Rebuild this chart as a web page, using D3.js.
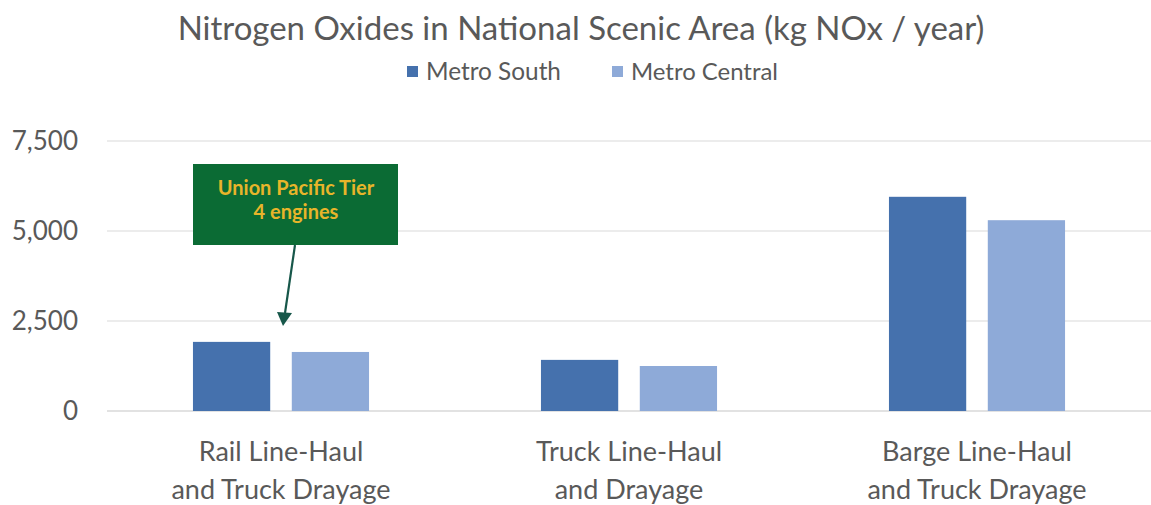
<!DOCTYPE html>
<html>
<head>
<meta charset="utf-8">
<script src="https://cdn.jsdelivr.net/npm/d3@7"></script>
<style>
  body { margin: 0; background: #fff; }
  svg { display: block; font-family: Lato, "Liberation Sans", sans-serif; }
</style>
</head>
<body>
<svg id="chart"></svg>
<script>
// data
var categories = [["Rail Line-Haul", "and Truck Drayage"], ["Truck Line-Haul", "and Drayage"], ["Barge Line-Haul", "and Truck Drayage"]];
var seriesNames = ["Metro South", "Metro Central"];
var metroSouth = [1920, 1420, 5950];
var metroCentral = [1640, 1250, 5300];
var yTicks = [0, 2500, 5000, 7500];
var noteLines = ["Union Pacific Tier", "4 engines"];

var width = 1151, height = 505,
	margin = {top: 141, right: 0, bottom: 94, left: 107},
	colors = ["#4571ad", "#8eaad8"],
	textColor = "#595959";

var svg = d3.select("#chart").attr("width", width).attr("height", height);

var x = d3.scaleBand().domain(d3.range(categories.length)).range([margin.left, width - margin.right]);
var y = d3.scaleLinear().domain([0, 7500]).range([height - margin.bottom, margin.top]);
var barW = x.bandwidth() * 0.222,
	offset = x.bandwidth() * 0.142;

// scale font so the text is as wide as in the picture
function fitText(sel, target) {
	var w = sel.node().getComputedTextLength();
	var fs = parseFloat(sel.attr("font-size"));
	sel.attr("font-size", fs * target / w);
}

// gridlines
svg.append("g").selectAll("line").data(yTicks).enter().append("line")
	.attr("x1", margin.left).attr("x2", width)
	.attr("y1", function(d) { return y(d); }).attr("y2", function(d) { return y(d); })
	.attr("stroke", function(d) { return d === 0 ? "#d9d9d9" : "#e6e6e6"; })
	.attr("stroke-width", 1.3);

// y labels
var yAxis = d3.axisLeft(y).tickValues(yTicks).tickFormat(d3.format(",")).tickSize(0).tickPadding(0);
var ya = svg.append("g").attr("transform", "translate(78,0)").call(yAxis);
ya.select(".domain").remove();
ya.selectAll("text").attr("font-size", 26).attr("fill", textColor).attr("font-family", "Lato, sans-serif");

// bars
var data = [metroSouth, metroCentral];
data.forEach(function(vals, s) {
	svg.append("g").selectAll("rect").data(vals).enter().append("rect")
		.attr("x", function(d, i) { return x(i) + x.bandwidth() / 2 + (s === 0 ? -offset : offset) - barW / 2; })
		.attr("width", barW)
		.attr("y", function(d) { return y(d); })
		.attr("height", function(d) { return y(0) - y(d); })
		.attr("fill", colors[s]);
});

// x labels
var xl = svg.append("g").selectAll("text").data(categories).enter().append("text")
	.attr("x", function(d, i) { return x(i) + x.bandwidth() / 2; })
	.attr("text-anchor", "middle").attr("fill", textColor).attr("font-size", 27);
xl.append("tspan").attr("x", function(d, i) { return x(i) + x.bandwidth() / 2; }).attr("y", 461).text(function(d) { return d[0]; });
xl.append("tspan").attr("x", function(d, i) { return x(i) + x.bandwidth() / 2; }).attr("y", 499).text(function(d) { return d[1]; });

// title
var title = svg.append("text").attr("x", 581).attr("y", 40).attr("text-anchor", "middle")
	.attr("font-size", 27).attr("fill", textColor)
	.text("Nitrogen Oxides in National Scenic Area (kg NOx / year)");
fitText(title, 807);

// legend
var legend = svg.append("g");
var lx = [407, 612];
seriesNames.forEach(function(n, i) {
	legend.append("rect").attr("x", lx[i]).attr("y", 66).attr("width", 11).attr("height", 11).attr("fill", colors[i]);
	var t = legend.append("text").attr("x", lx[i] + 19).attr("y", 80).attr("font-size", 20).attr("fill", textColor).text(n);
	fitText(t, i === 0 ? 135 : 147);
});

// annotation
var note = svg.append("g");
note.append("rect").attr("x", 193).attr("y", 164).attr("width", 205).attr("height", 81).attr("fill", "#0b6b34");
note.selectAll("text").data(noteLines).enter().append("text")
	.attr("x", 296).attr("y", function(d, i) { return 195 + i * 24; })
	.attr("text-anchor", "middle").attr("font-weight", "bold").attr("font-size", 20)
	.attr("fill", "#e8b52a").text(function(d) { return d; });
note.append("line").attr("x1", 295).attr("y1", 245).attr("x2", 285).attr("y2", 313)
	.attr("stroke", "#17574a").attr("stroke-width", 2.2);
note.append("path").attr("d", "M277,312 L292,313 L283,326 Z").attr("fill", "#17574a");
</script>
</body>
</html>
